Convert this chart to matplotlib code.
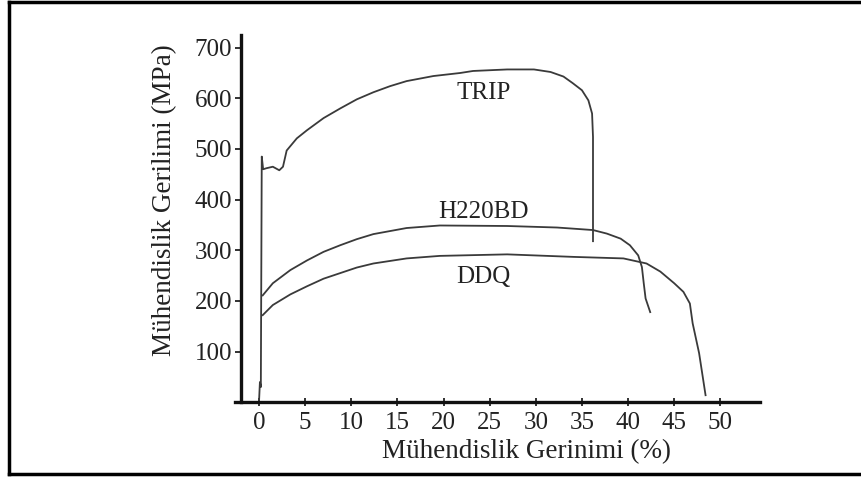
import matplotlib.pyplot as plt
from matplotlib.lines import Line2D

# strain (%) and stress (MPa)
trip_x = [0.0, 0.1, 0.2, 0.3, 0.45, 0.8, 1.5, 2.2, 2.6, 3.0, 4.1, 5.2, 7.0, 8.8, 10.6, 12.4, 14.2, 16.0,
          18.9, 21.8, 23.2, 26.9, 29.8, 31.6, 33.0, 34.0, 35.0, 35.7, 36.1, 36.2, 36.2]
trip_y = [0, 40, 30, 485, 460, 462, 465, 458, 465, 497, 521, 537, 561, 580, 598, 612, 624, 634,
          644, 650, 654, 657, 657, 652, 643, 630, 616, 596, 570, 524, 318]

h220_x = [0.4, 1.5, 3.4, 5.2, 7.0, 8.8, 10.6, 12.4, 14.2, 16.0, 19.6, 26.9, 32.3, 36.2,
          37.7, 39.2, 40.2, 41.1, 41.5, 41.7, 41.9, 42.4]
h220_y = [211, 235, 261, 280, 297, 310, 322, 332, 338, 344, 349, 348, 345, 340,
          333, 323, 310, 290, 267, 235, 205, 178]

ddq_x = [0.4, 1.5, 3.4, 5.2, 7.0, 8.8, 10.6, 12.4, 16.0, 19.6, 26.9, 34.1, 39.5, 42.0,
         43.5, 45.0, 46.0, 46.7, 47.0, 47.7, 48.4]
ddq_y = [172, 192, 213, 229, 244, 255, 266, 274, 284, 289, 292, 287, 284, 274,
         258, 235, 218, 195, 156, 97, 14]

names = ["TRIP", "H220BD", "DDQ"]
name_x = [24.3, 24.3, 24.3]
name_y = [610, 375, 247]

x_ticks = [0, 5, 10, 15, 20, 25, 30, 35, 40, 45, 50]
y_ticks = [100, 200, 300, 400, 500, 600, 700]

plt.rcParams['font.family'] = ['Liberation Serif', 'DejaVu Serif']
ink = '#222222'
curve = '#3a3a3a'

W, H = 862, 479
fig = plt.figure(figsize=(W / 100, H / 100), dpi=100)
ax = fig.add_axes([235 / W, 1 - 402.3 / H, (760 - 235) / W, (402.3 - 35) / H])

for xs, ys in [(trip_x, trip_y), (h220_x, h220_y), (ddq_x, ddq_y)]:
    ax.plot(xs, ys, color=curve, lw=1.3, solid_joinstyle='round')

for n, tx, ty in zip(names, name_x, name_y):
    ax.text(tx, ty, n, ha='center', va='center', fontsize=18, color=ink)

ax.set_xlim(-2.6, 54.3)
ax.set_ylim(0, 725)
ax.set_xticks(x_ticks)
ax.set_yticks(y_ticks)
ax.spines['top'].set_visible(False)
ax.spines['right'].set_visible(False)
ax.spines['left'].set_position(('data', -2.0))
for s in ('left', 'bottom'):
    ax.spines[s].set_linewidth(2.4)
    ax.spines[s].set_color('#111111')
ax.tick_params(axis='y', direction='out', length=4, width=1.3, pad=2, labelsize=18, colors=ink)
ax.tick_params(axis='x', direction='inout', length=6, width=1.3, pad=4, labelsize=18, colors=ink)

fig.text(527 / W, 1 - 452 / H, "Mühendislik Gerinimi (%)", ha='center', va='center',
         fontsize=19.5, color=ink)
fig.text(165 / W, 1 - 200 / H, "Mühendislik Gerilimi (MPa)", ha='center', va='center',
         rotation=90, fontsize=19.5, color=ink)

# frame round the picture (open on the right)
for xs, ys in [([9, 9], [1.5, 474]), ([9, W], [1.5, 1.5]), ([9, W], [474, 474])]:
    fig.add_artist(Line2D([x / W for x in xs], [1 - y / H for y in ys], color='black', lw=2.5))

fig.savefig('out.png', dpi=100)
